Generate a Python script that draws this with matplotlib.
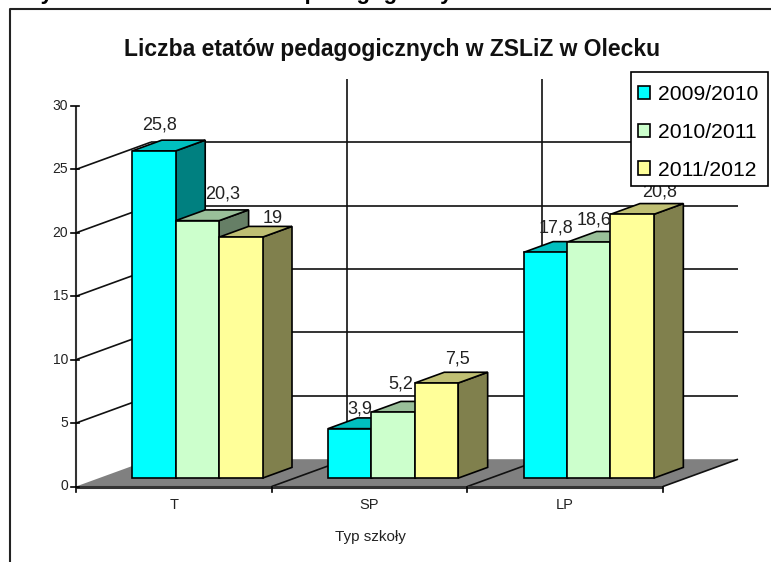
import matplotlib
matplotlib.use('Agg')
import matplotlib.pyplot as plt
from matplotlib.patches import Polygon, Patch, Rectangle

plt.rcParams['font.family'] = ['Liberation Sans', 'DejaVu Sans']

# Datos
categorias = ['T', 'SP', 'LP']
series = ['2009/2010', '2010/2011', '2011/2012']
v_2009 = [25.8, 3.9, 17.8]
v_2010 = [20.3, 5.2, 18.6]
v_2011 = [19, 7.5, 20.8]
etiquetas = [['25,8', '3,9', '17,8'], ['20,3', '5,2', '18,6'], ['19', '7,5', '20,8']]
yticks = [0, 5, 10, 15, 20, 25, 30]

# desplazamiento de cada etiqueta respecto a la barra (px)
off_x = [[6, 10, 11], [25, 8, 5], [32, 21, 27]]
off_y = [[26, 20, 24], [27, 28, 22], [19, 24, 22]]

colores = ['#00FFFF', '#CCFFCC', '#FFFF99']
techo = ['#00BFBF', '#99BF99', '#BFBF73']
lado = ['#008080', '#667F66', '#80804D']

W, H = 771, 562
fig = plt.figure(figsize=(W / 100, H / 100), dpi=100)

# ejes principales: plano frontal del grafico en pixeles
x0, x1 = 76, 663
y0, y30 = 486.5, 106
ax = fig.add_axes([x0 / W, 1 - y0 / H, (x1 - x0) / W, (y0 - y30) / H])
ax.set_xlim(0, 3)
ax.set_ylim(0, 30)
ax.axis('off')

# profundidad en unidades de datos
PX_CAT = (x1 - x0) / 3
DX = 75 / PX_CAT
DY = 27.3 / ((y0 - y30) / 30)


def pr(x, y, d):
    return (x + DX * d, y + DY * d)


def poly(pts, **kw):
    kw.setdefault('lw', 1.2)
    kw.setdefault('ec', 'black')
    ax.add_patch(Polygon(pts, closed=True, clip_on=False, joinstyle='miter', **kw))


def linea(xs, ys, lw=1.2, z=1, c='#111111'):
    ax.plot(xs, ys, color=c, lw=lw, clip_on=False, zorder=z, solid_capstyle='butt')


# suelo gris
poly([pr(0, 0, 0), pr(3, 0, 0), pr(3, 0, 1), pr(0, 0, 1)], fc='#808080', ec='none', zorder=1)

# rejilla: lineas de fondo y laterales
for t in yticks[1:-1]:
    a = pr(0, t, 1)
    b = pr(3, t, 1)
    linea([a[0], b[0]], [a[1], b[1]], z=1.5)
    c = pr(0, t, 0)
    linea([c[0], a[0]], [c[1], a[1]], z=1.5)
for k in [1, 2]:
    a = pr(k, 0, 1)
    b = pr(k, 30, 1)
    linea([a[0], b[0]], [a[1], b[1]], z=1.5)
    c = pr(k, 0, 0)
    linea([c[0], a[0]], [c[1], a[1]], z=1.5)
a = pr(3, 0, 0)
b = pr(3, 0, 1)
linea([a[0], b[0]], [a[1], b[1]], z=1.5)

# eje Y y eje X
linea([0, 0], [0, 30], lw=1.5, z=6, c='#333333')
linea([0, 3], [0, 0], lw=2.2, z=6, c='#333333')
for t in yticks:
    ax.plot([-5 / PX_CAT, 3 / PX_CAT], [t, t], color='black', lw=1.2, clip_on=False, zorder=6)
    ax.text(-8 / PX_CAT, t, str(t), ha='right', va='center', fontsize=10, color='#222222')
for k in range(4):
    ax.plot([k, k], [0, -0.45], color='black', lw=1.2, clip_on=False, zorder=6)

# barras
valores = [v_2009, v_2010, v_2011]
gap = 33.3 / PX_CAT
ancho = 43.4 / PX_CAT
d1, d2 = 0.307, 0.70
for c in range(3):
    for s in range(3):
        v = valores[s][c]
        xa = c + gap + s * ancho
        xb = xa + ancho
        z = 2 + c + s * 0.1
        poly([pr(xb, 0, d1), pr(xb, 0, d2), pr(xb, v, d2), pr(xb, v, d1)], fc=lado[s], zorder=z)
        poly([pr(xa, v, d1), pr(xb, v, d1), pr(xb, v, d2), pr(xa, v, d2)], fc=techo[s], zorder=z)
        poly([pr(xa, 0, d1), pr(xb, 0, d1), pr(xb, v, d1), pr(xa, v, d1)], fc=colores[s], zorder=z + 0.05)
        ax.annotate(etiquetas[s][c], pr(xa + ancho / 2, v, d1), xycoords='data',
                    xytext=(off_x[s][c] * 0.72, off_y[s][c] * 0.72), textcoords='offset points',
                    ha='center', va='center', fontsize=13, color='#222222', zorder=8)

# etiquetas de categorias y eje
for k, cat in enumerate(categorias):
    ax.text(k + 0.5, -1.46, cat, ha='center', va='center', fontsize=10.5, color='#222222')
fig.text(370 / W, 1 - 537 / H, 'Typ szkoły', ha='center', va='center', fontsize=11, color='#222222')

# titulo
fig.text(392 / W, 1 - 49.5 / H, 'Liczba etatów pedagogicznych w ZSLiZ w Olecku', ha='center', va='center',
         fontsize=16.5, fontweight='bold', color='#111111')

# texto cortado arriba (solo se ven los descendentes)
fig.text(21 / W, 1 + 1.5 / H, 'Wykres', ha='left', va='baseline', fontsize=16, fontweight='bold', color='black')
fig.text(153 / W, 1 + 1.5 / H, 'Liczba etatów pedagogicznych w ZSLiZ w Olecku', ha='left', va='baseline',
         fontsize=16, fontweight='bold', color='black')

# marco exterior
fig.add_artist(plt.Line2D([10 / W, 10 / W, 1], [0, 1 - 9 / H, 1 - 9 / H], color='#222222', lw=1.5))

# leyenda: caja aparte para colocarla exacta
caja = Rectangle((631 / W, 1 - 186 / H), 137 / W, 114 / H, transform=fig.transFigure,
                 fc='white', ec='black', lw=1.2, zorder=19)
fig.add_artist(caja)
handles = [Patch(fc=colores[i], ec='black', lw=1.2, label=series[i]) for i in range(3)]
leg = fig.legend(handles=handles, loc='upper left', bbox_to_anchor=(638 / W, 1 - 85 / H), borderaxespad=0,
                 fontsize=15.2, frameon=False, borderpad=0,
                 labelspacing=0.89, handlelength=0.58, handleheight=0.62, handletextpad=0.37)
leg.set_zorder(20)

fig.savefig('out.png', dpi=100)
